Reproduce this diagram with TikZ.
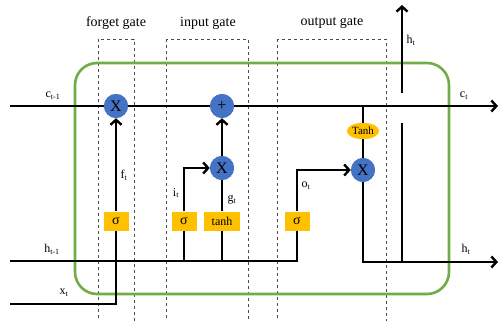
\documentclass[tikz,border=0pt]{standalone}
\usepackage{fontspec}
\setmainfont{Liberation Serif}
\usetikzlibrary{arrows.meta,shapes.geometric}
\definecolor{opblue}{HTML}{4472C4}
\definecolor{gateorange}{HTML}{FFC000}
\definecolor{cellgreen}{HTML}{70AD47}
\begin{document}
\begin{tikzpicture}[x=1pt,y=-1pt,
  flow/.style={line width=2.4pt,black},
  tip/.style={-{Straight Barb[length=5pt,width=11pt,line width=2.4pt]}},
  opnode/.style={circle,fill=opblue,minimum size=24pt,inner sep=0pt,font=\fontsize{16}{16}\selectfont},
  actbox/.style={rectangle,fill=gateorange,minimum height=19pt,minimum width=25pt,inner sep=0pt,font=\fontsize{14}{14}\selectfont},
  tanhbox/.style={actbox,minimum width=36pt,font=\fontsize{12}{12}\selectfont},
  tanhoval/.style={ellipse,fill=gateorange,minimum width=32pt,minimum height=16pt,inner sep=0pt,font=\fontsize{11}{11}\selectfont},
  gatebox/.style={draw=black!70,dashed,line width=0.7pt},
  gatetitle/.style={font=\fontsize{14}{14}\selectfont},
  sig/.style={font=\fontsize{12}{12}\selectfont}
]
\useasboundingbox (0,0) rectangle (498,321);

% dashed gate frames
\draw[gatebox] (98,39) rectangle (134,321);
\draw[gatebox] (166,39) rectangle (248,321);
\draw[gatebox] (277,39) rectangle (386,321);
\node[gatetitle] (tf) at (116,23) {forget gate};
\node[gatetitle] (ti) at (208,23) {input gate};
\node[gatetitle] (to) at (332,23) {output gate};

% cell boundary
\draw[cellgreen,line width=2.6pt,rounded corners=22pt] (75,63) rectangle (449,294);

% end points
\coordinate (cin) at (10,106);
\coordinate (cout) at (498,106);
\coordinate (hin) at (10,261);
\coordinate (xin) at (10,304);
\coordinate (xc) at (116,304);
\coordinate (hout) at (498,262);
\coordinate (hj) at (402,262);
\coordinate (hg1) at (402,123);
\coordinate (hg2) at (402,93);
\coordinate (htop) at (402,5);

% node positions
\coordinate (pfx) at (116,106);
\coordinate (pplus) at (222,106);
\coordinate (pix) at (222,168);
\coordinate (pox) at (363,170);
\coordinate (ptc) at (363,131);

% connectors, drawn first so the nodes cover their ends
\path (pfx) node[opnode] (fx) {X}
      (pplus) node[opnode] (plus) {+}
      (pix) node[opnode] (ix) {X}
      (pox) node[opnode] (ox) {X}
      (ptc) node[tanhoval] (tc) {Tanh}
      (116,221) node[actbox] (fs) {σ}
      (184,221) node[actbox] (is) {σ}
      (222,221) node[tanhbox] (tb) {tanh}
      (297,221) node[actbox] (os) {σ};

\draw[flow] (cin) -- (fx);
\draw[flow] (fx) -- (plus);
\draw[flow,tip] (plus) -- (cout);
\draw[flow] (xin) -- (xc) -- (fs.south);
\draw[flow,tip] (fs.north) -- (fx.south);
\draw[flow] (hin) -| (os.south);
\draw[flow,tip] (os.north) |- (ox.west);
\draw[flow] (is.south) -- (is.south |- hin);
\draw[flow,tip] (is.north) |- (ix.west);
\draw[flow] (tb.south) -- (tb.south |- hin);
\draw[flow] (tb.north) -- (ix.south);
\draw[flow,tip] (ix.north) -- (plus.south);
\draw[flow] (tc.north) -- (tc.north |- cin);
\draw[flow] (tc.south) -- (ox.north);
\draw[flow,tip] (ox.south) |- (hout);
\draw[flow] (hj) -- (hg1);
\draw[flow,tip] (hg2) -- (htop);

% nodes on top of the lines
\node[opnode] at (pfx) {X};
\node[opnode] at (pplus) {+};
\node[opnode] at (pix) {X};
\node[opnode] at (pox) {X};
\node[tanhoval] at (ptc) {Tanh};
\node[actbox] at (fs) {σ};
\node[actbox] at (is) {σ};
\node[tanhbox] at (tb) {tanh};
\node[actbox] at (os) {σ};

% signal labels
\node[sig] (lc0) at (53,96) {c\textsubscript{t-1}};
\node[sig] (lc1) at (464,96) {c\textsubscript{t}};
\node[sig] (lh0) at (52,249) {h\textsubscript{t-1}};
\node[sig] (lx) at (64,293) {x\textsubscript{t}};
\node[sig] (lht) at (411,40) {h\textsubscript{t}};
\node[sig] (lho) at (466,249) {h\textsubscript{t}};
\node[sig] (lf) at (124,175) {f\textsubscript{t}};
\node[sig] (li) at (176,193) {i\textsubscript{t}};
\node[sig] (lg) at (232,200) {g\textsubscript{t}};
\node[sig] (lo) at (306,186) {o\textsubscript{t}};
\end{tikzpicture}
\end{document}
